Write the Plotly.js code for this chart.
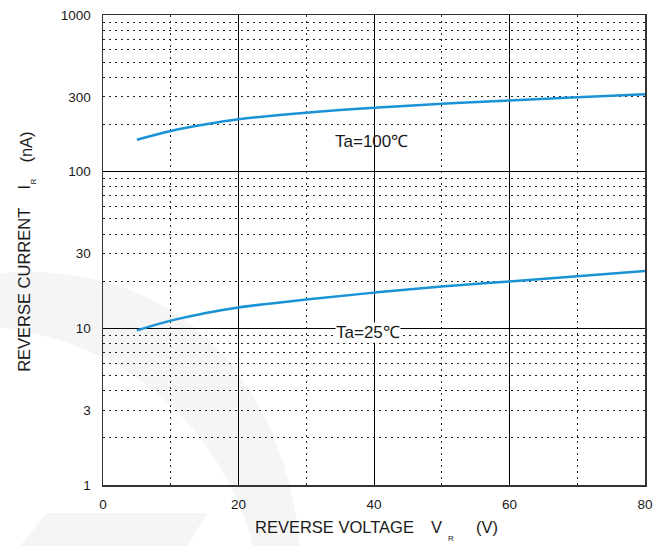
<!DOCTYPE html>
<html>
<head>
<meta charset="utf-8">
<script src="https://cdn.plot.ly/plotly-3.0.1.min.js"></script>
<style>html,body{margin:0;padding:0;background:#fff;}#chart{width:667px;height:546px;}</style>
</head>
<body>
<div id="chart"></div>
<script>
// ---- data ----
var voltage = [5, 10, 15, 20, 30, 40, 50, 60, 70, 80];
var current100 = [160, 182, 200, 216, 238, 256, 271, 285, 298, 312];
var current25 = [9.7, 11.2, 12.5, 13.6, 15.3, 16.9, 18.5, 19.9, 21.5, 23.2];
var xTickVals = [0, 20, 40, 60, 80];
var xMinorVals = [10, 30, 50, 70];
var yTickVals = [1, 3, 10, 30, 100, 300, 1000];
var yTickText = ['1', '3', '10', '30', '100', '300', '1000'];
var yDecades = [1, 10, 100, 1000];
var yMinorVals = [2,3,4,5,6,7,8,9,20,30,40,50,60,70,80,90,200,300,400,500,600,700,800,900];
var label100 = 'Ta=100\u2103';
var label25 = 'Ta=25\u2103';

var FONT = 'Arial, Liberation Sans, sans-serif';
var TXT = '#1a1a1a';
var BLUE = '#1a93d6';
var DOT = '1.5px,4.5px';

var traces = [
  {x: [], y: [], yaxis: 'y2', type: 'scatter', mode: 'lines', showlegend: false, hoverinfo: 'skip'},
  {x: voltage, y: current100, yaxis: 'y3', type: 'scatter', mode: 'lines',
   line: {color: BLUE, width: 2.5, shape: 'spline', smoothing: 1}, showlegend: false},
  {x: voltage, y: current25, yaxis: 'y3', type: 'scatter', mode: 'lines',
   line: {color: BLUE, width: 2.5, shape: 'spline', smoothing: 1}, showlegend: false}
];

var logAxisBase = {type: 'log', range: [0, 3], zeroline: false, fixedrange: true};

var layout = {
  width: 667, height: 546,
  margin: {l: 103, r: 22, t: 15, b: 61},
  paper_bgcolor: '#ffffff',
  plot_bgcolor: '#ffffff',
  showlegend: false,
  font: {family: FONT, color: TXT, size: 13.5},
  xaxis: {
    range: [0, 80], tickvals: xTickVals, ticktext: xTickVals.map(String),
    showgrid: true, gridcolor: '#000', gridwidth: 1,
    minor: {tickvals: xMinorVals, showgrid: true, gridcolor: '#222', gridwidth: 1, griddash: DOT, ticks: ''},
    zeroline: false, showline: true, mirror: true, linecolor: '#333', linewidth: 1.5,
    ticks: '', ticklabelstandoff: 6, tickfont: {family: FONT, size: 13.5, color: TXT}
  },
  yaxis: Object.assign({}, logAxisBase, {
    tickvals: yTickVals, ticktext: yTickText, showgrid: false,
    showline: true, mirror: true, linecolor: '#333', linewidth: 1.5,
    ticks: '', ticklabelstandoff: 8, tickfont: {family: FONT, size: 13.5, color: TXT}
  }),
  yaxis2: Object.assign({}, logAxisBase, {
    overlaying: 'y', tickvals: yMinorVals, showticklabels: false,
    showgrid: true, gridcolor: '#222', gridwidth: 1, griddash: DOT, ticks: '', showline: false
  }),
  yaxis3: Object.assign({}, logAxisBase, {
    overlaying: 'y', tickvals: yDecades, showticklabels: false,
    showgrid: true, gridcolor: '#000', gridwidth: 1, ticks: '', showline: false
  }),
  shapes: [
    {type: 'path', xref: 'paper', yref: 'paper', layer: 'below', line: {width: 0},
     fillcolor: '#f5f5f5',
     path: 'M -0.19 0.451 C 0.12 0.48 0.33 0.25 0.3635 -0.1298 L 0.2768 -0.1298 C 0.22 0.12 0.05 0.30 -0.19 0.336 Z'},
    {type: 'path', xref: 'paper', yref: 'paper', layer: 'below', line: {width: 0},
     fillcolor: '#f5f5f5',
     path: 'M -0.1033 -0.0596 L 0.1919 -0.0596 L 0.155 -0.1298 L -0.1531 -0.1298 Z'}
  ],
  annotations: [
    {text: label100, x: 39.7, y: Math.log10(155), xref: 'x', yref: 'y', showarrow: false,
     font: {family: FONT, size: 17, color: TXT}},
    {text: label25, x: 39.1, y: Math.log10(9.4), xref: 'x', yref: 'y', showarrow: false,
     bgcolor: '#ffffff', borderpad: 0, font: {family: FONT, size: 17, color: TXT}},
    // x-axis title
    {text: 'REVERSE VOLTAGE', xref: 'paper', yref: 'paper', x: 0.2768, y: -0.0894,
     xanchor: 'left', yanchor: 'middle', showarrow: false, font: {family: FONT, size: 16.5, color: TXT}},
    {text: 'V', xref: 'paper', yref: 'paper', x: 0.6015, y: -0.0894,
     xanchor: 'left', yanchor: 'middle', showarrow: false, font: {family: FONT, size: 16.5, color: TXT}},
    {text: 'R', xref: 'paper', yref: 'paper', x: 0.642, y: -0.1128,
     xanchor: 'center', yanchor: 'middle', showarrow: false, font: {family: FONT, size: 8, color: TXT}},
    {text: '(V)', xref: 'paper', yref: 'paper', x: 0.6845, y: -0.0894,
     xanchor: 'left', yanchor: 'middle', showarrow: false, font: {family: FONT, size: 16.5, color: TXT}},
    // y-axis title
    {text: 'REVERSE CURRENT', xref: 'paper', yref: 'paper', x: -0.146, y: 0.4149, textangle: -90,
     xanchor: 'center', yanchor: 'middle', showarrow: false, font: {family: FONT, size: 16.5, color: TXT}},
    {text: 'I', xref: 'paper', yref: 'paper', x: -0.146, y: 0.635, textangle: -90,
     xanchor: 'center', yanchor: 'middle', showarrow: false, font: {family: FONT, size: 16.5, color: TXT}},
    {text: 'R', xref: 'paper', yref: 'paper', x: -0.1273, y: 0.6457, textangle: -90,
     xanchor: 'center', yanchor: 'middle', showarrow: false, font: {family: FONT, size: 8, color: TXT}},
    {text: '(nA)', xref: 'paper', yref: 'paper', x: -0.142, y: 0.718, textangle: -90,
     xanchor: 'center', yanchor: 'middle', showarrow: false, font: {family: FONT, size: 16.5, color: TXT}}
  ]
};

Plotly.newPlot('chart', traces, layout, {displayModeBar: false, staticPlot: true});
</script>
</body>
</html>
